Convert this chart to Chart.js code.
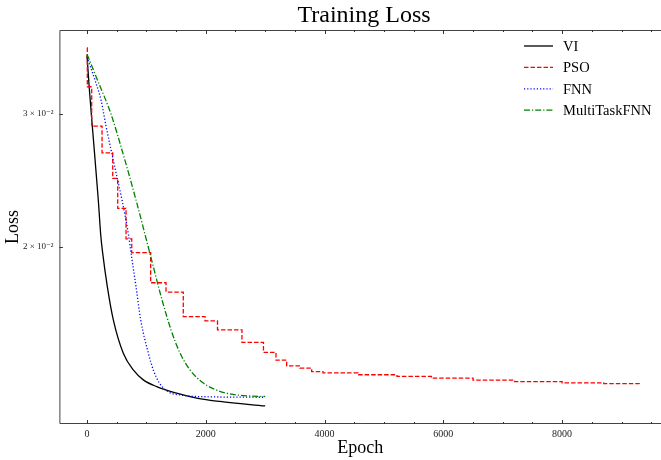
<!DOCTYPE html>
<html lang="en">
<head>
    <meta charset="UTF-8">
    <title>Training Loss</title>
    <script src="https://cdn.jsdelivr.net/npm/chart.js"></script>
    <style>
        body {
            margin: 0;
            background: #fff;
            overflow: hidden;
        }

        #lossChart {
            position: absolute;
            left: 0;
            top: 0;
        }
    </style>
</head>
<body>
    <canvas id="lossChart" width="661" height="460"></canvas>

    <script>
        // Series (epoch, loss)
        const seriesNames = ['VI', 'PSO', 'FNN', 'MultiTaskFNN'];

        const viEpoch = [0, 34, 89, 190, 231, 264, 342, 443, 611, 779, 948, 1173, 1510, 1847, 2239, 3000];
        const viLoss  = [0.0359, 0.03278, 0.02892, 0.02307, 0.02073, 0.01961, 0.0177, 0.01599, 0.01444, 0.01372, 0.01331, 0.01304, 0.01278, 0.01259, 0.01246, 0.01229];

        const psoEpoch = [0, 5, 79, 253, 433, 517, 657, 753, 1072, 1330, 1621, 1987, 2197, 2609, 2971, 3182, 3362, 3586, 3783, 3973, 4562, 5219, 5800, 6500, 7200, 8000, 8700, 9300];
        const psoLoss  = [0.03673, 0.03261, 0.02892, 0.02665, 0.02465, 0.02249, 0.02048, 0.01964, 0.01791, 0.01741, 0.01615, 0.01594, 0.01551, 0.01493, 0.01448, 0.01414, 0.01389, 0.0138, 0.01365, 0.0136, 0.01352, 0.01345, 0.01338, 0.0133, 0.01324, 0.01319, 0.01316, 0.01315];

        const fnnEpoch = [0, 135, 236, 320, 471, 589, 699, 741, 825, 904, 1032, 1116, 1217, 1369, 1566, 1847, 3000];
        const fnnLoss  = [0.0357, 0.03327, 0.03131, 0.02892, 0.02544, 0.02307, 0.02073, 0.01963, 0.0177, 0.01599, 0.01445, 0.01372, 0.01319, 0.01283, 0.01271, 0.01265, 0.01262];

        const mtEpoch = [0, 177, 404, 589, 825, 1044, 1263, 1414, 1566, 1734, 1953, 2172, 2407, 2744, 3000];
        const mtLoss  = [0.03603, 0.03327, 0.03, 0.02687, 0.02307, 0.0198, 0.017, 0.01551, 0.01445, 0.01372, 0.01319, 0.01291, 0.01275, 0.01267, 0.01265];

        // Axis ticks
        const xTicks = [0, 2000, 4000, 6000, 8000];
        const yTicks = [0.02, 0.03];
        const yTickLabels = ['2 × 10⁻²', '3 × 10⁻²'];

        const toPoints = (xs, ys) => xs.map((x, i) => ({ x: x, y: ys[i] }));

        const serif = "'Liberation Serif', 'DejaVu Serif', serif";

        // Line styles of the four series (matplotlib-like)
        const lineStyles = [
            { color: '#000000', dash: [] },
            { color: '#ff0000', dash: [4.5, 2] },
            { color: '#0000ff', dash: [1.2, 2] },
            { color: '#008000', dash: [6, 2, 1.2, 2] }
        ];

        // Frame and inward ticks; the right side of the plot is cut off in the original
        const frameTicks = {
            id: 'frameTicks',
            afterDraw(chart) {
                const ctx = chart.ctx;
                const { left, right, top, bottom } = chart.chartArea;
                const xs = chart.scales.x;
                const ys = chart.scales.y;

                ctx.save();
                ctx.strokeStyle = '#444';
                ctx.lineWidth = 1;
                ctx.beginPath();
                ctx.moveTo(right + 2, top + 0.5);
                ctx.lineTo(left + 0.5, top + 0.5);
                ctx.lineTo(left + 0.5, bottom - 0.5);
                ctx.lineTo(right + 2, bottom - 0.5);
                ctx.stroke();

                ctx.strokeStyle = '#333';
                ctx.beginPath();
                for (let v = -500; v <= 10000; v += 500) {
                    if (v < xs.min || v > xs.max) continue;
                    const len = (v % 2000 === 0) ? 4 : 2;
                    const px = Math.round(xs.getPixelForValue(v)) + 0.5;
                    ctx.moveTo(px, bottom);
                    ctx.lineTo(px, bottom - len);
                    ctx.moveTo(px, top);
                    ctx.lineTo(px, top + len);
                }
                yTicks.forEach(v => {
                    const py = Math.round(ys.getPixelForValue(v)) + 0.5;
                    ctx.moveTo(left, py);
                    ctx.lineTo(left + 3.5, py);
                });
                ctx.stroke();
                ctx.restore();
            }
        };

        // Legend in the upper right corner, drawn by hand so it stacks like the original
        const cornerLegend = {
            id: 'cornerLegend',
            afterDraw(chart) {
                const ctx = chart.ctx;
                ctx.save();
                ctx.font = '14.5px ' + serif;
                ctx.textBaseline = 'middle';
                seriesNames.forEach((name, i) => {
                    const y = 46 + i * 21.4;
                    ctx.strokeStyle = lineStyles[i].color;
                    ctx.lineWidth = 1.3;
                    ctx.setLineDash(lineStyles[i].dash);
                    ctx.beginPath();
                    ctx.moveTo(524, y);
                    ctx.lineTo(553, y);
                    ctx.stroke();
                    ctx.setLineDash([]);
                    ctx.fillStyle = '#000';
                    ctx.fillText(name, 563, y + 1);
                });
                ctx.restore();
            }
        };

        // The original centres the title on the uncut axes (about x = 364)
        const titleShift = {
            id: 'titleShift',
            beforeDraw(chart) {
                const t = chart.titleBlock;
                if (t) {
                    t.left = 364 - t.width / 2;
                    t.right = t.left + t.width;
                }
            }
        };

        const allData = [
            toPoints(viEpoch, viLoss),
            toPoints(psoEpoch, psoLoss),
            toPoints(fnnEpoch, fnnLoss),
            toPoints(mtEpoch, mtLoss)
        ];

        const datasets = seriesNames.map((name, i) => ({
            label: name,
            data: allData[i],
            borderColor: lineStyles[i].color,
            borderDash: lineStyles[i].dash,
            borderWidth: 1.3,
            pointRadius: 0,
            fill: false,
            order: 4 - i,
            stepped: name === 'PSO' ? 'before' : false,
            cubicInterpolationMode: 'monotone'
        }));

        new Chart(document.getElementById('lossChart').getContext('2d'), {
            type: 'line',
            data: { datasets: datasets },
            options: {
                responsive: false,
                animation: false,
                layout: { padding: 0 },
                scales: {
                    x: {
                        type: 'linear',
                        min: -465,
                        max: 9665,
                        grid: { display: false, drawTicks: false },
                        border: { display: false },
                        afterBuildTicks: (scale) => { scale.ticks = xTicks.map(v => ({ value: v })); },
                        afterFit: (scale) => { scale.height = 36; },
                        ticks: {
                            padding: 4,
                            maxRotation: 0,
                            color: '#222',
                            font: { family: serif, size: 10 },
                            callback: (v) => String(v)
                        },
                        title: {
                            display: true,
                            text: 'Epoch',
                            color: '#000',
                            font: { family: serif, size: 18 },
                            padding: { top: 0, bottom: 1 }
                        }
                    },
                    y: {
                        type: 'logarithmic',
                        min: 0.01163,
                        max: 0.03879,
                        grid: { display: false, drawTicks: false },
                        border: { display: false },
                        afterBuildTicks: (scale) => { scale.ticks = yTicks.map(v => ({ value: v })); },
                        afterFit: (scale) => { scale.width = 59.4; },
                        ticks: {
                            padding: 6,
                            color: '#222',
                            font: { family: serif, size: 9 },
                            callback: (v) => {
                                const k = yTicks.indexOf(v);
                                return k >= 0 ? yTickLabels[k] : '';
                            }
                        },
                        title: {
                            display: true,
                            text: 'Loss',
                            color: '#000',
                            font: { family: serif, size: 18 },
                            padding: { top: 2, bottom: 0 }
                        }
                    }
                },
                plugins: {
                    legend: { display: false },
                    tooltip: { enabled: false },
                    title: {
                        display: true,
                        text: 'Training Loss',
                        fullSize: false,
                        color: '#000',
                        font: { family: serif, size: 24, weight: 'normal' },
                        padding: { top: 1, bottom: 0.2 }
                    }
                }
            },
            plugins: [frameTicks, cornerLegend, titleShift]
        });
    </script>
</body>
</html>
